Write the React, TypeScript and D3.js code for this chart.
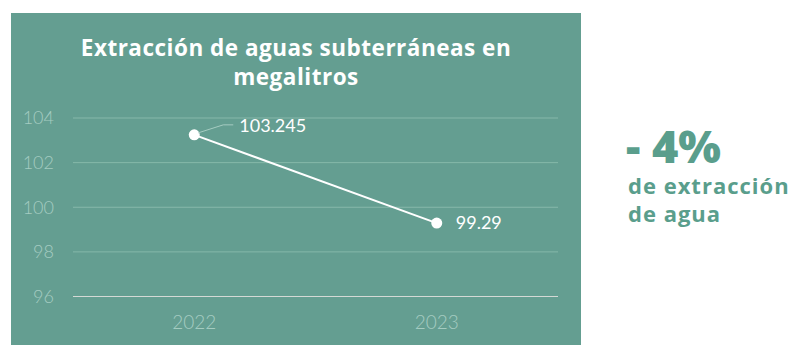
import React from 'react';
import * as d3 from 'd3';

// datos
const years = ['2022', '2023'];
const values = [103.245, 99.29];
const valueLabels = ['103.245', '99.29'];
const yTicks = [96, 98, 100, 102, 104];
const titleLines = ['Extracción de aguas subterráneas en', 'megalitros'];
const kpiLines = ['- 4%', 'de extracción', 'de agua'];

const W = 807;
const H = 361;
const BG = '#649e91';
const FONT = 'Lato, "Open Sans", sans-serif';
const BOLD = '"Open Sans", Lato, sans-serif';

export default function App() {
  const box = { x: 11, y: 13, w: 570, h: 332 };
  const plot = { left: 73, right: 558, top: 118, bottom: 296.5 };

  const x = d3.scaleBand<string>().domain(years).range([plot.left, plot.right]).padding(0);
  const y = d3.scaleLinear().domain([96, 104]).range([plot.bottom, plot.top]);

  const pts = years.map((yr, i) => [x(yr)! + x.bandwidth() / 2, y(values[i])] as [number, number]);
  const line = d3.line<[number, number]>()(pts);

  return (
    <svg width={W} height={H} style={{ position: 'absolute', left: 0, top: 0 }}>
      <rect x={box.x} y={box.y} width={box.w} height={box.h} fill={BG} />

      {/* titulo */}
      <text
        textAnchor="middle"
        fill="#fff"
        fontFamily={BOLD}
        fontWeight={700}
        fontSize={22.5}
        letterSpacing={0.5}
      >
        {titleLines.map((t, i) => (
          <tspan key={i} x={296} y={56 + i * 28.5}>
            {t}
          </tspan>
        ))}
      </text>

      {/* rejilla y eje y */}
      {yTicks.map((t) => (
        <g key={t}>
          <line
            x1={plot.left}
            x2={plot.right}
            y1={y(t)}
            y2={y(t)}
            stroke={t === 96 ? '#d4d9d5' : '#86b8aa'}
            strokeWidth={1}
          />
          <text
            x={54}
            y={y(t)}
            dy="0.35em"
            textAnchor="end"
            fill="#a5ccc1"
            fontFamily={FONT}
            fontWeight={300}
            fontSize={18}
          >
            {t}
          </text>
        </g>
      ))}

      {/* eje x */}
      {years.map((yr) => (
        <text
          key={yr}
          x={x(yr)! + x.bandwidth() / 2}
          y={329}
          textAnchor="middle"
          fill="#a5ccc1"
          fontFamily={FONT}
          fontWeight={300}
          fontSize={19}
        >
          {yr}
        </text>
      ))}

      {/* linea */}
      <path d={line!} fill="none" stroke="#fff" strokeWidth={2} />
      {pts.map((p, i) => (
        <circle key={i} cx={p[0]} cy={p[1]} r={5.5} fill="#fff" />
      ))}

      {/* etiquetas */}
      <polyline
        points={`${pts[0][0] + 4},${pts[0][1] - 2} ${pts[0][0] + 29},${pts[0][1] - 10} ${pts[0][0] + 39},${pts[0][1] - 10}`}
        fill="none"
        stroke="#a5ccc1"
        strokeWidth={1}
      />
      <text x={pts[0][0] + 45} y={pts[0][1] - 3} fill="#fff" fontFamily={FONT} fontSize={18}>
        {valueLabels[0]}
      </text>
      <text x={pts[1][0] + 19} y={pts[1][1] + 6} fill="#fff" fontFamily={FONT} fontSize={18}>
        {valueLabels[1]}
      </text>

      {/* kpi */}
      <text x={626} y={163} fill="#5a9e8c" fontFamily={BOLD} fontWeight={800} fontSize={45}>
        {kpiLines[0]}
      </text>
      <text
        x={628}
        y={194}
        fill="#5a9e8c"
        fontFamily={BOLD}
        fontWeight={700}
        fontSize={22}
        letterSpacing={1}
      >
        {kpiLines[1]}
      </text>
      <text
        x={628}
        y={222}
        fill="#5a9e8c"
        fontFamily={BOLD}
        fontWeight={700}
        fontSize={22}
        letterSpacing={1}
      >
        {kpiLines[2]}
      </text>
    </svg>
  );
}
